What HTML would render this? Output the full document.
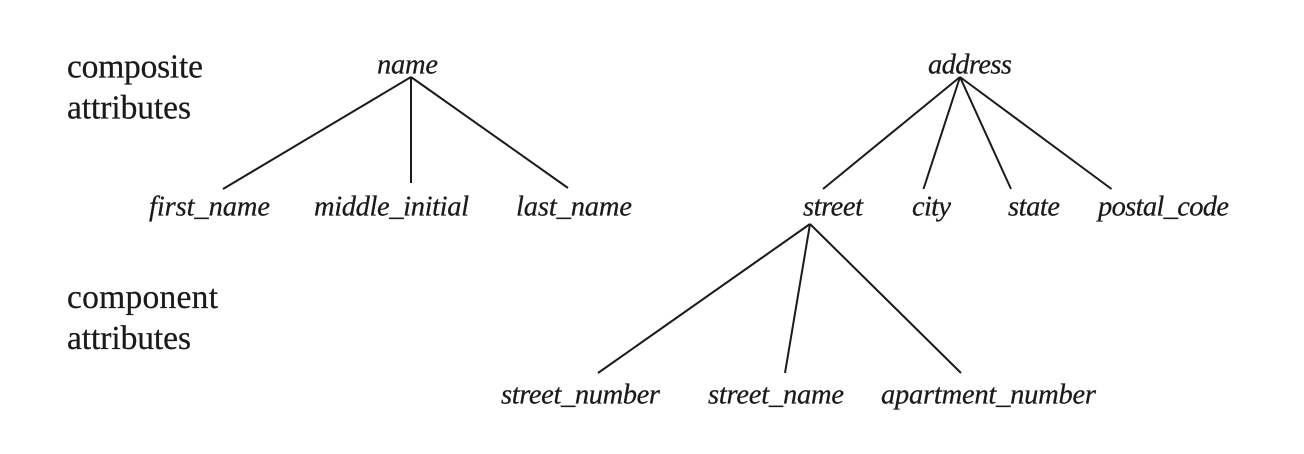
<!DOCTYPE html>
<html>
<head>
<meta charset="utf-8">
<style>
html,body{margin:0;padding:0;background:#fff;width:1304px;height:454px;overflow:hidden}
svg{display:block}
text{font-family:"Liberation Serif",serif;font-size:33.5px;fill:#1a1a1a;stroke:#1a1a1a;stroke-width:.25px}
.i{font-style:italic;font-size:28.5px}
line{stroke:#1a1a1a;stroke-width:2}
</style>
</head>
<body>
<svg width="1304" height="454" viewBox="0 0 1304 454">
<text x="67" y="77.5" textLength="136">composite</text>
<text x="67" y="118.5" textLength="124">attributes</text>
<text x="67" y="308" textLength="151">component</text>
<text x="67" y="349" textLength="124">attributes</text>

<text class="i" x="377" y="73.5" textLength="61">name</text>
<text class="i" x="928" y="73.5" textLength="84">address</text>
<text class="i" x="149" y="215.5" textLength="121">first_name</text>
<text class="i" x="314" y="215.5" textLength="155">middle_initial</text>
<text class="i" x="516" y="215.5" textLength="116">last_name</text>
<text class="i" x="803" y="215.5" textLength="60">street</text>
<text class="i" x="912" y="215.5" textLength="39">city</text>
<text class="i" x="1008" y="215.5" textLength="52">state</text>
<text class="i" x="1098" y="215.5" textLength="131">postal_code</text>
<text class="i" x="501" y="403.5" textLength="159">street_number</text>
<text class="i" x="708" y="403.5" textLength="136">street_name</text>
<text class="i" x="881" y="403.5" textLength="215">apartment_number</text>

<line x1="411" y1="77" x2="223" y2="189"/>
<line x1="411" y1="77" x2="411" y2="183"/>
<line x1="411" y1="77" x2="568" y2="188"/>
<line x1="960" y1="77" x2="823" y2="189"/>
<line x1="960" y1="77" x2="923.5" y2="189"/>
<line x1="960" y1="77" x2="1011" y2="189"/>
<line x1="960" y1="77" x2="1111.5" y2="189"/>
<line x1="810" y1="224" x2="598" y2="373"/>
<line x1="810" y1="224" x2="785" y2="373"/>
<line x1="810" y1="224" x2="961" y2="373"/>
</svg>
</body>
</html>
